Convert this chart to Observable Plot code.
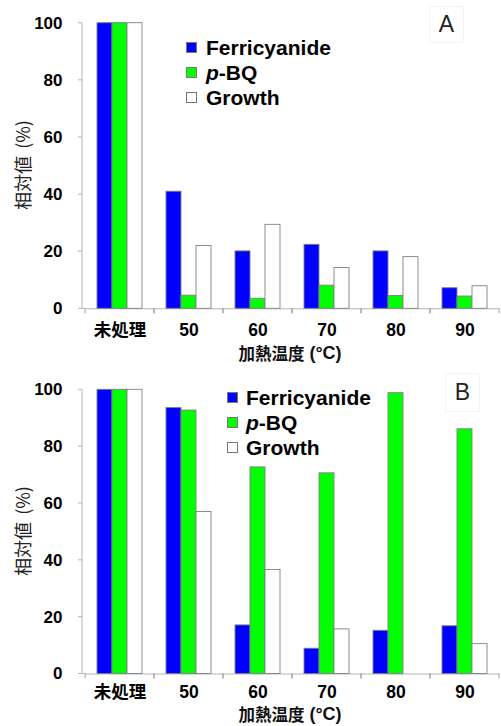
<!DOCTYPE html>
<html><head><meta charset="utf-8">
<script src="https://cdn.jsdelivr.net/npm/d3@7"></script>
<script src="https://cdn.jsdelivr.net/npm/@observablehq/plot@0.6"></script>
<style>
body{margin:0;background:#fff;}
#wrap{position:relative;width:501px;height:726px;overflow:hidden;font-family:"Liberation Sans",Arial,"Noto Sans CJK JP",sans-serif;}
.panel{position:absolute;left:0;width:501px;height:363px;}
.panel svg{display:block;}
.legend{position:absolute;font-weight:bold;font-size:21px;color:#000;}
.legend .row{display:flex;align-items:center;height:25px;line-height:25px;white-space:nowrap;}
.sw{width:11px;height:11px;border:1px solid #777;box-sizing:border-box;}
.tag{position:absolute;border:1px solid #f3f3f3;box-sizing:border-box;display:flex;align-items:center;justify-content:center;font-size:23px;color:#222;font-family:"Liberation Sans",Arial,sans-serif;}
.ytitle{position:absolute;transform:translate(-50%,-50%) rotate(-90deg);white-space:nowrap;font-family:"Noto Sans CJK JP",sans-serif;font-size:18px;color:#222;word-spacing:3px;}
.xtitle{position:absolute;transform:translate(-50%,-50%);white-space:nowrap;color:#111;display:flex;align-items:center;height:18px;}
.xtitle span{display:block;line-height:18px;height:18px;}
.xtitle .cjk{font-family:"Noto Sans CJK JP",sans-serif;font-size:16.5px;font-weight:bold;}
.xtitle .lat{font-family:"Liberation Sans",Arial,sans-serif;font-size:18px;font-weight:bold;margin-left:5px;}
</style>
</head><body>
<div id="wrap"></div>
<script>
// ---- data ----
const categories = ["未処理", "50", "60", "70", "80", "90"];
const series = ["Ferricyanide", "p-BQ", "Growth"];
const seriesColors = ["#0000ff", "#00ff00", "#ffffff"];
const yTicks = [0, 20, 40, 60, 80, 100];
// Panel A
const ferriA  = [100, 41.0, 20.1, 22.4, 20.1, 7.2];
const pbqA    = [100, 4.6, 3.5, 8.1, 4.5, 4.3];
const growthA = [100, 22.0, 29.4, 14.3, 18.1, 7.9];
// Panel B
const ferriB  = [100, 93.6, 17.1, 8.9, 15.2, 16.8];
const pbqB    = [100, 92.7, 72.7, 70.6, 98.8, 86.1];
const growthB = [100, 57.0, 36.6, 15.7, 0, 10.5];
const yTitle = "相対値 (%)";
const xTitleCJK = "加熱温度";
const xTitleUnit = "(°C)";

function buildPanel(vals, mt, mb, tickPad) {
  const rows = [];
  categories.forEach((c, i) => series.forEach((s, j) => rows.push({cat: c, ser: s, v: vals[j][i]})));
  let axisDrawn = false;
  const deco = (index, scales, values, dim) => {
    const {y} = scales;
    const g = d3.create("svg:g").attr("fill", "none");
    const x0 = dim.marginLeft, x1 = dim.width - dim.marginRight, yb = y(0);
    g.append("path").attr("stroke", "#a0a0a0").attr("d", `M${x0},${yb}v5M${x1},${yb}v5`);
    if (!axisDrawn) {
      axisDrawn = true;
      const ax = x0 - 3;
      g.append("path").attr("stroke", "#b4b4b4")
        .attr("d", `M${ax},${y(0)}V${y(100)}` + yTicks.map(t => `M${ax - 4},${y(t)}h4`).join("") + `M${ax},${yb}H${x0}`);
    }
    return g.node();
  };
  return Plot.plot({
    width: 501, height: 363,
    marginLeft: 85, marginRight: 1.5, marginTop: mt, marginBottom: mb,
    style: {fontFamily: '"Liberation Sans", Arial, "Noto Sans CJK JP", sans-serif', fontWeight: "bold", background: "transparent", overflow: "visible", color: "#000"},
    fx: {domain: categories, paddingInner: 0, paddingOuter: 0, label: null},
    x: {domain: series, paddingInner: 0, paddingOuter: 0.75, axis: null},
    y: {domain: [0, 100]},
    color: {domain: series, range: seriesColors},
    marks: [
      Plot.ruleY([0], {stroke: "#b4b4b4"}),
      Plot.barY(rows, {fx: "cat", x: "ser", y: "v", fill: "ser", stroke: "#808080", strokeWidth: 0.9}),
      Plot.axisY(yTicks, {tickSize: 0, tickPadding: 23, fontSize: 17, fontWeight: "bold", label: null}),
      Plot.axisFx({anchor: "bottom", tickSize: 0, tickPadding: tickPad, fontSize: 17.5, fontWeight: "bold", label: null}),
      deco
    ]
  });
}

const wrap = document.getElementById("wrap");
function addPanel(top, vals, mt, mb, tickPad, letter, tagBox, legPos, titleY, xTitleY) {
  const p = document.createElement("div");
  p.className = "panel"; p.style.top = top + "px";
  p.appendChild(buildPanel(vals, mt, mb, tickPad));
  wrap.appendChild(p);
  // legend
  const leg = document.createElement("div");
  leg.className = "legend"; leg.style.left = legPos[0] + "px"; leg.style.top = legPos[1] + "px";
  series.forEach((s, i) => {
    const r = document.createElement("div"); r.className = "row";
    const sw = document.createElement("div"); sw.className = "sw"; sw.style.background = seriesColors[i];
    sw.style.marginRight = legPos[2] + "px";
    const t = document.createElement("span");
    if (s.startsWith("p-")) { t.innerHTML = "<i>p</i>" + s.slice(1); } else t.textContent = s;
    r.appendChild(sw); r.appendChild(t); leg.appendChild(r);
  });
  wrap.appendChild(leg);
  // tag
  const tg = document.createElement("div");
  tg.className = "tag"; tg.textContent = letter;
  tg.style.left = tagBox[0] + "px"; tg.style.top = tagBox[1] + "px";
  tg.style.width = tagBox[2] + "px"; tg.style.height = tagBox[3] + "px";
  wrap.appendChild(tg);
  // y title
  const yt = document.createElement("div");
  yt.className = "ytitle"; yt.textContent = yTitle;
  yt.style.left = "22px"; yt.style.top = titleY + "px";
  wrap.appendChild(yt);
  // x title
  const xt = document.createElement("div");
  xt.className = "xtitle";
  xt.innerHTML = `<span class="cjk">${xTitleCJK}</span><span class="lat">${xTitleUnit}</span>`;
  xt.style.left = "290px"; xt.style.top = xTitleY + "px";
  wrap.appendChild(xt);
}

addPanel(0, [ferriA, pbqA, growthA], 22.7, 54.7, 15, "A", [429, 6, 35, 37], [186, 35, 9], 164.5, 353);
addPanel(363, [ferriB, pbqB, growthB], 26.3, 52.5, 11.5, "B", [445, 373, 35, 39], [227, 385, 8], 530.5, 714.2);
</script>
</body></html>
